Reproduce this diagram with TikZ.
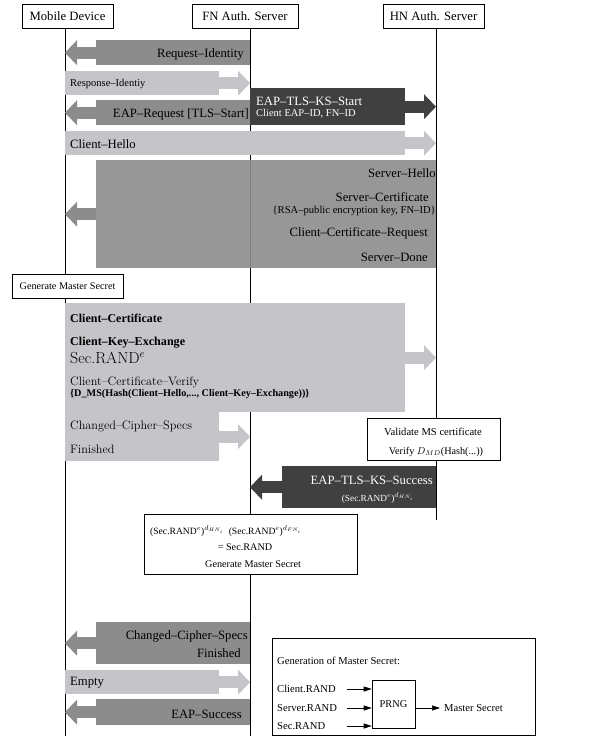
\documentclass[tikz,border=0pt]{standalone}
\usepackage{fontspec}
\newfontfamily\tnr[Ligatures=TeX]{Liberation Serif}
\usetikzlibrary{arrows.meta}
\definecolor{msglight}{RGB}{197,196,200}
\definecolor{msgdark}{RGB}{140,140,140}
\definecolor{msgdeep}{RGB}{64,64,64}

\begin{document}
\begin{tikzpicture}[x=1pt, y=-1pt,
  actor/.style={draw, fill=white, line width=0.6pt, inner sep=0pt, minimum height=24pt, font=\tnr\fontsize{12.7}{14}\selectfont},
  life/.style={line width=0.6pt},
  msgbox/.style={inner sep=0pt, anchor=north west},
  bigarrow/.style={line width=12pt, -{Triangle[width=25pt, length=12pt, line width=0pt]}},
  lbl/.style={inner sep=0pt, font=\tnr\fontsize{12.7}{14}\selectfont},
  sml/.style={inner sep=0pt, font=\tnr\fontsize{10.5}{12}\selectfont},
  tiny/.style={inner sep=0pt, font=\tnr\fontsize{10.6}{12}\selectfont},
  lmlbl/.style={inner sep=0pt, font=\fontsize{12.2}{14}\selectfont},
  note/.style={draw, fill=white, line width=0.6pt, inner sep=0pt, anchor=north west},
  thin arrow/.style={line width=0.7pt, -{Triangle[length=8pt, width=5pt]}}]
  \useasboundingbox (0,0) rectangle (591,736);

  \coordinate (mdx) at (65,0);
  \coordinate (fnx) at (250,0);
  \coordinate (hnx) at (436,0);

  \node[actor, minimum width=91pt] (md) at (67.5,16) {Mobile Device};
  \node[actor, minimum width=106pt] (fn) at (245,16) {FN Auth. Server};
  \node[actor, minimum width=101pt] (hn) at (433.5,16) {HN Auth. Server};
  \coordinate (mdend) at (65,736);
  \coordinate (fnend) at (250,736);
  \coordinate (hnend) at (436,520);
  \draw[life] (md.south -| mdx) -- (mdend);
  \draw[life] (fn.south -| fnx) -- (fnend);
  \draw[life] (hn.south -| hnx) -- (hnend);

  \node[msgbox, fill=msgdark, minimum width=154pt, minimum height=25pt] (reqid) at (96,40) {};
  \draw[bigarrow, msgdark] (reqid.west) -- (reqid.west -| mdx);
  \node[lbl, anchor=east] (reqidt) at (244,54) {Request--Identity};

  \node[msgbox, fill=msglight, minimum width=154pt, minimum height=24pt] (respid) at (65,71) {};
  \draw[bigarrow, msglight] (respid.east) -- (respid.east -| fnx);
  \node[sml, anchor=west] (respidt) at (70,84) {Response--Identiy};

  \node[msgbox, fill=msgdeep, minimum width=155pt, minimum height=37pt] (ksstart) at (250,88) {};
  \draw[bigarrow, msgdeep] (ksstart.east) -- (ksstart.east -| hnx);
  \node[lbl, anchor=west, white] (ksstartt) at (256,101) {EAP--TLS--KS--Start};
  \node[sml, anchor=west, white] (ksstarts) at (256,114) {Client EAP--ID, FN--ID};

  \node[msgbox, fill=msgdark, minimum width=154pt, minimum height=25pt] (eapreq) at (96,100) {};
  \draw[bigarrow, msgdark] (eapreq.west) -- (eapreq.west -| mdx);
  \node[lbl, anchor=east] (eapreqt) at (249,114) {EAP--Request [TLS--Start]};

  \node[msgbox, fill=msglight, minimum width=340pt, minimum height=24pt] (chello) at (65,131) {};
  \draw[bigarrow, msglight] (chello.east) -- (chello.east -| hnx);
  \node[lbl, anchor=west] (chellot) at (70,144) {Client--Hello};

  \node[msgbox, fill=msgdark, fill opacity=0.9, minimum width=340pt, minimum height=108pt] (shello) at (96,160) {};
  \draw[bigarrow, msgdark] (shello.west) -- (shello.west -| mdx);
  \node[lbl, anchor=east] (shellot) at (436,173) {Server--Hello};
  \node[lbl, anchor=east] (scert) at (429,197) {Server--Certificate};
  \node[tiny, anchor=east] (scertk) at (436,211) {\{RSA--public encryption key, FN--ID\}};
  \node[lbl, anchor=east] (ccreq) at (428,233) {Client--Certificate--Request};
  \node[lbl, anchor=east] (sdone) at (428,257) {Server--Done};

  \node[draw, fill=white, line width=0.6pt, inner sep=0pt, minimum width=111pt, minimum height=24pt, font=\tnr\fontsize{10.2}{12}\selectfont] (gms) at (67.5,286) {Generate Master Secret};

  \node[msgbox, fill=msglight, minimum width=340pt, minimum height=109pt] (ccert) at (65,303) {};
  \draw[bigarrow, msglight] (ccert.east) -- (ccert.east -| hnx);
  \node[inner sep=0pt, anchor=west, font=\tnr\bfseries\fontsize{12}{13}\selectfont] (ccertt) at (70,318) {Client--Certificate};
  \node[inner sep=0pt, anchor=west, font=\tnr\bfseries\fontsize{12.1}{13}\selectfont] (ckex) at (70,343) {Client--Key--Exchange};
  \node[inner sep=0pt, anchor=west, font=\fontsize{16}{17}\selectfont] (ckexr) at (70,358) {Sec.RAND$^e$};
  \node[lmlbl, anchor=west] (ccver) at (70,382) {Client--Certificate--Verify};
  \node[inner sep=0pt, anchor=west, font=\tnr\bfseries\fontsize{10.2}{11}\selectfont] (ccverh) at (70,394) {\{D\_MS(Hash(Client--Hello,..., Client--Key--Exchange))\}};

  \node[msgbox, fill=msglight, minimum width=154pt, minimum height=49pt] (ccs) at (65,412) {};
  \draw[bigarrow, msglight] (ccs.east) -- (ccs.east -| fnx);
  \node[lmlbl, anchor=west] (ccst) at (70,426) {Changed--Cipher--Specs};
  \node[lmlbl, anchor=west] (fint) at (70,449) {Finished};

  \node[note, minimum width=133pt, minimum height=42pt] (valid) at (367,418) {};
  \node[tiny] (validt) at (433,432) {Validate MS certificate};
  \node[tiny, font=\tnr\fontsize{10.2}{12}\selectfont] (verify) at (436,452) {Verify $D_{MD}$(Hash(...))};

  \node[msgbox, fill=msgdeep, minimum width=154pt, minimum height=42pt] (kssucc) at (282,466) {};
  \draw[bigarrow, msgdeep] (kssucc.west) -- (kssucc.west -| fnx);
  \node[lbl, anchor=east, white] (kssucct) at (433,480) {EAP--TLS--KS--Success};
  \node[inner sep=0pt, white, font=\tnr\fontsize{9.3}{10}\selectfont] (kssuccs) at (378,498) {(Sec.RAND$^e$)$^{d_{HN_i}}$};

  \node[note, minimum width=213pt, minimum height=60pt] (secret) at (144,514) {};
  \node[inner sep=0pt, anchor=west, font=\tnr\fontsize{9.6}{10}\selectfont] (secreta) at (150,531) {(Sec.RAND$^e$)$^{d_{HN_i}}$\ \ (Sec.RAND$^e$)$^{d_{FN_i}}$};
  \node[tiny, font=\tnr\fontsize{10.2}{12}\selectfont] (secretb) at (245,547) {= Sec.RAND};
  \node[tiny, font=\tnr\fontsize{10.2}{12}\selectfont] (secretc) at (253,564) {Generate Master Secret};

  \node[msgbox, fill=msgdark, minimum width=154pt, minimum height=42pt] (ccs2) at (96,622) {};
  \draw[bigarrow, msgdark] (ccs2.west) -- (ccs2.west -| mdx);
  \node[lbl, anchor=east] (ccs2t) at (248,636) {Changed--Cipher--Specs};
  \node[lbl, anchor=east] (fin2t) at (241,653) {Finished};

  \node[msgbox, fill=msglight, minimum width=154pt, minimum height=24pt] (empty) at (65,670) {};
  \draw[bigarrow, msglight] (empty.east) -- (empty.east -| fnx);
  \node[lbl, anchor=west] (emptyt) at (70,683) {Empty};

  \node[msgbox, fill=msgdark, minimum width=154pt, minimum height=26pt] (eapsucc) at (96,699) {};
  \draw[bigarrow, msgdark] (eapsucc.west) -- (eapsucc.west -| mdx);
  \node[lbl, anchor=east] (eapsucct) at (242,714) {EAP--Success};

  \node[note, minimum width=263pt, minimum height=97pt] (genbox) at (272,638) {};
  \node[tiny] [anchor=west] (gent) at (277,661) {Generation of Master Secret:};
  \node[draw, line width=0.6pt, inner sep=0pt, minimum width=43pt, minimum height=48pt, font=\tnr\fontsize{10.4}{11}\selectfont] (prng) at (393.5,704) {PRNG};
  \node[tiny, anchor=west] (crand) at (277,689) {Client.RAND};
  \node[tiny, anchor=west] (srand) at (277,708) {Server.RAND};
  \node[tiny, anchor=west] (secrand) at (277,726) {Sec.RAND};
  \coordinate (cin) at (347,689);
  \coordinate (sin) at (347,708);
  \coordinate (secin) at (347,726);
  \draw[thin arrow] (cin) -- (cin -| prng.west);
  \draw[thin arrow] (sin) -- (sin -| prng.west);
  \draw[thin arrow] (secin) -- (secin -| prng.west);
  \node[tiny, anchor=west] (mst) at (444,708) {Master Secret};
  \draw[thin arrow] (sin -| prng.east) -- ([xshift=-4pt]mst.west);
\end{tikzpicture}
\end{document}
